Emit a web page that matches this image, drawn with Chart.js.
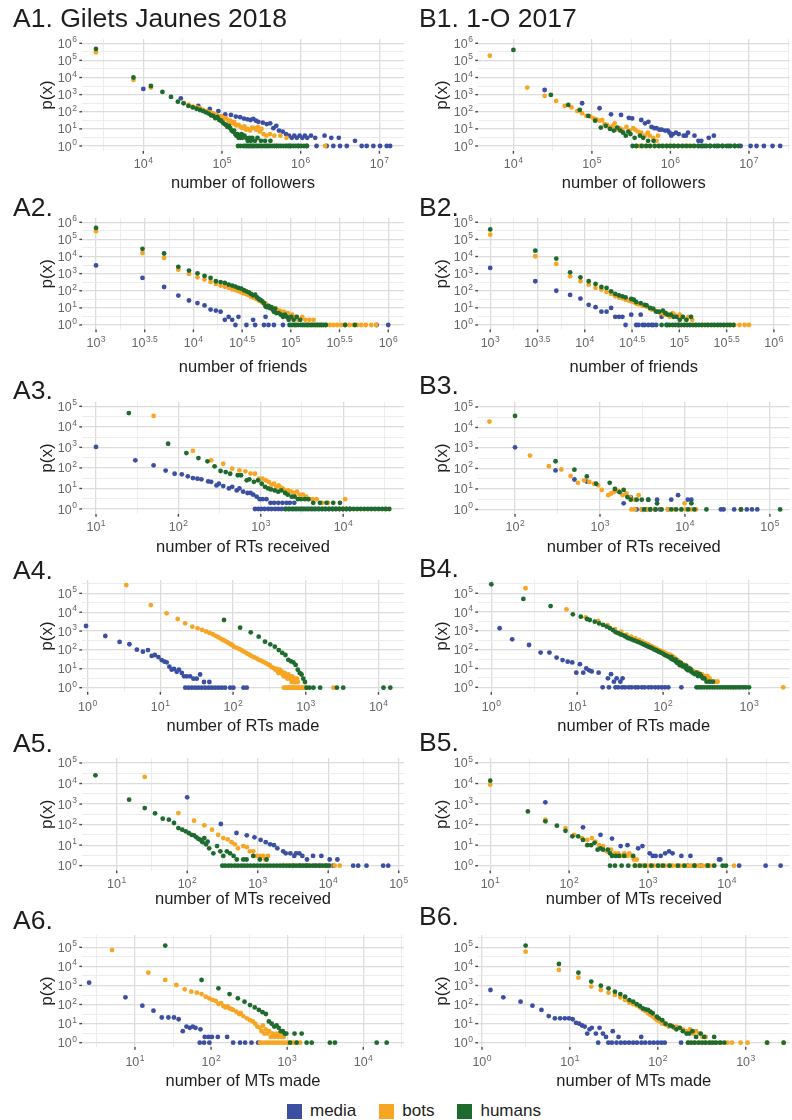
<!DOCTYPE html>
<html>
<head>
<meta charset="utf-8">
<script src="https://cdn.jsdelivr.net/npm/chart.js@4.4.1/dist/chart.umd.min.js"></script>
<style>
  html, body { margin: 0; padding: 0; background: #fff; }
  body { width: 792px; height: 1120px; position: relative; overflow: hidden;
         font-family: "Liberation Sans", Arial, Helvetica, sans-serif; }
  canvas.panel { position: absolute; }
  #legend { position: absolute; left: 287px; top: 1101px; display: flex; align-items: center;
            font-size: 17px; color: #222; }
  #legend .key { width: 15px; height: 15px; margin-right: 8px; }
  #legend .lab { margin-right: 23px; }
</style>
</head>
<body>
<div id="legend">
  <div class="key" style="background:#3b4fa3"></div><div class="lab">media</div>
  <div class="key" style="background:#f6a623"></div><div class="lab">bots</div>
  <div class="key" style="background:#1d6b2d"></div><div class="lab">humans</div>
</div>
<script>
// ---- tick labels (powers of ten) ----
const yTicks6 = [0, 1, 2, 3, 4, 5, 6];
const yTicks5 = [0, 1, 2, 3, 4, 5];
const a1XTicks = [4, 5, 6, 7];
const b1XTicks = [4, 5, 6, 7];
const a2XTicks = [3, 3.5, 4, 4.5, 5, 5.5, 6];
const b2XTicks = [3, 3.5, 4, 4.5, 5, 5.5, 6];
const a3XTicks = [1, 2, 3, 4];
const b3XTicks = [2, 3, 4, 5];
const a4XTicks = [0, 1, 2, 3, 4];
const b4XTicks = [0, 1, 2, 3];
const a5XTicks = [1, 2, 3, 4, 5];
const b5XTicks = [1, 2, 3, 4];
const a6XTicks = [1, 2, 3, 4];
const b6XTicks = [0, 1, 2, 3];

// ---- A1 followers ----
const a1Media = [[1e4,2150],[3e4,610],[5e4,220],[7e4,145],[9e4,110],[1.1e5,70],[1.3e5,65],[1.5e5,52],[1.7e5,48],[1.9e5,40],[2.1e5,36],[2.3e5,33],[2.5e5,38],[2.7e5,30],[2.9e5,26],[3.3e5,23],[3.7e5,19],[4.1e5,21],[4.5e5,11],[4.9e5,15],[5.3e5,8],[5.9e5,7],[6.5e5,5],[7.1e5,4],[7.7e5,3],[8.3e5,4],[8.9e5,3],[9.7e5,4],[1.05e6,3],[1.13e6,4],[1.21e6,3],[1.35e6,4],[1.53e6,3],[2.01e6,4],[2.45e6,3],[3.05e6,3],[4.9e6,2],
  [7.3e5,1],[9.3e5,1],[1.19e6,1],[1.59e6,1],[2.14e6,1],[2.6e6,1],[3.16e6,1],[3.85e6,1],[5.96e6,1],[6.9e6,1],[8.39e6,1],[1.02e7,1],[1.24e7,1],[1.37e7,1]];
const a1Bots = [[2500,3e5],[7500,7200],[12500,2600],[32500,330],[37500,260],[42500,200],[47500,180],[52500,160],[57500,130],[62500,110],[67500,95],[72500,90],[77500,80],[82500,68],[87500,60],[92500,52],[97500,55],[102500,45],[107500,40],[112500,42],[117500,35],[122500,28],[127500,30],[132500,24],[137500,21],[142500,26],[147500,18],[152500,16],[162500,17],[172500,13],[182500,11],[192500,14],[202500,9],[212500,10],[227500,8],[242500,12],[257500,11],[272500,9],[287500,13],[302500,7],[317500,10],[337500,5],[367500,4],[407500,5],[462500,4],[552500,4],[662500,3],
  [497500,1],[667500,1],[2040000,1]];
const a1Humans = [[2500,470000],[7500,10000],[12500,3200],[17500,1440],[22500,740],[27500,390],[32500,310],[37500,220],[42500,180],[47500,150],[52500,127],[57500,110],[62500,93],[67500,78],[72500,62],[77500,57],[82500,42],[87500,48],[92500,33],[97500,30],[102500,23],[107500,19],[112500,17],[117500,13],[122500,15],[127500,11],[132500,8],[137500,7],[142500,8],[147500,5],[152500,4],[157500,5],[162500,3],[167500,4],[172500,3],[177500,5],[182500,3],[192500,4],[202500,3],[212500,2],[222500,3],[232500,2],[242500,3],[262500,2],[282500,3],[312500,2],[352500,2],[412500,2],
  [160000,1],[172000,1],[187500,1],[197500,1],[207500,1],[217500,1],[227500,1],[237500,1],[247500,1],[257500,1],[272500,1],[287500,1],[302500,1],[322500,1],[342500,1],[362500,1],[382500,1],[402500,1],[432500,1],[462500,1],[492500,1],[527500,1],[562500,1],[602500,1],[647500,1],[697500,1],[747500,1],[807500,1],[867500,1],[937500,1],[1012500,1],[1102500,1],[1202500,1]];

// ---- B1 followers ----
const b1Media = [[25000,1870],[75000,315],[125000,160],[175000,71],[235000,65],[295000,44],[325000,41],[425000,33],[475000,21],[525000,26],[575000,13],[625000,11],[665000,11],[725000,9],[775000,9],[855000,8],[925000,8],[975000,6],[1025000,4],[1075000,5],[1175000,6],[1275000,5],[1475000,4],[1575000,4],[1675000,6],[2025000,4],[2275000,2],[2475000,2],[3075000,3],[3575000,4],
  [2450000,1],[2700000,1],[3200000,1],[3900000,1],[4600000,1],[5500000,1],[6600000,1],[7850000,1],[10500000,1],[12500000,1],[15500000,1],[20000000,1],[25000000,1]];
const b1Bots = [[5000,190000],[15000,2600],[25000,840],[35000,430],[45000,220],[55000,180],[65000,110],[75000,81],[85000,57],[95000,52],[105000,41],[115000,36],[125000,30],[135000,33],[145000,19],[155000,17],[165000,13],[185000,15],[195000,21],[205000,9],[225000,11],[245000,9],[275000,13],[305000,8],[335000,11],[355000,9],[385000,7],[425000,6],[475000,4],[515000,6],[545000,4],[605000,3],[665000,2],[695000,4],
  [365000,1],[405000,1],[445000,1],[495000,1],[555000,1],[625000,1],[715000,1],[815000,1],[905000,1],[1005000,1],[1105000,1],[1255000,1],[1455000,1],[1655000,1],[1955000,1],[2255000,1]];
const b1Humans = [[10000,410000],[30000,960],[50000,250],[70000,127],[90000,57],[110000,30],[130000,12],[150000,15],[170000,10],[190000,8],[210000,12],[230000,8],[250000,6],[270000,4],[290000,7],[310000,5],[350000,3],[410000,4],[450000,3],[520000,2],[610000,2],
  [330000,1],[370000,1],[430000,1],[490000,1],[550000,1],[630000,1],[710000,1],[790000,1],[890000,1],[990000,1],[1110000,1],[1250000,1],[1410000,1],[1590000,1],[1790000,1],[2010000,1],[2270000,1],[2550000,1],[2870000,1],[3230000,1],[3630000,1],[4090000,1],[4610000,1],[5190000,1],[5830000,1],[6570000,1],[7390000,1]];

// ---- A2 friends ----
const a2Media = [[1000,3000],[3000,560],[5000,166],[7000,52],[9000,27],[11000,19],[13000,14],[15000,8],[17000,7],[19000,6],[21000,2],[23000,3],[25000,2],[29000,3],[41000,2],[55000,3],
  [27000,1],[35000,1],[43000,1],[53000,1],[59000,1],[67000,1],[83000,1],[760000,1],[1000000,1]];
const a2Bots = [[1000,3e5],[3000,16000],[5000,8300],[7000,1700],[9000,960],[11000,610],[13000,450],[15000,330],[17000,250],[19000,200],[21000,170],[23000,150],[25000,120],[27000,110],[29000,95],[31000,80],[33000,70],[35000,62],[37000,55],[39000,45],[41000,40],[43000,36],[45000,32],[47000,27],[49000,24],[51000,20],[53000,17],[55000,18],[57000,14],[59000,12],[61000,11],[63000,9],[65000,10],[67000,8],[69000,7],[71000,9],[73000,6],[77000,7],[81000,5],[85000,6],[89000,4],[93000,5],[97000,3],[103000,4],[111000,3],[119000,2],[131000,3],[141000,2],[155000,2],[171000,2],
  [147000,1],[163000,1],[185000,1],[205000,1],[229000,1],[251000,1],[273000,1],[299000,1],[329000,1],[361000,1],[397000,1],[437000,1],[481000,1],[529000,1],[589000,1],[669000,1],[749000,1]];
const a2Humans = [[1000,470000],[3000,28000],[5000,15000],[7000,2500],[9000,1500],[11000,1050],[13000,740],[15000,560],[17000,360],[19000,320],[21000,285],[23000,230],[25000,200],[27000,175],[29000,146],[31000,133],[33000,107],[35000,93],[37000,81],[39000,65],[41000,54],[43000,59],[45000,41],[47000,33],[49000,28],[51000,24],[53000,19],[55000,12],[57000,11],[59000,13],[61000,10],[63000,11],[65000,8],[67000,6],[69000,9],[71000,5],[75000,5],[79000,4],[83000,3],[87000,4],[91000,3],[95000,2],[101000,3],[107000,2],[115000,3],[125000,2],
  [97000,1],[103000,1],[109000,1],[113000,1],[119000,1],[127000,1],[133000,1],[139000,1],[147000,1],[153000,1],[161000,1],[169000,1],[177000,1],[187000,1],[197000,1],[207000,1],[217000,1],[229000,1],[361000,1],[455000,1]];

// ---- B2 friends ----
const b2Media = [[1000,2150],[3000,360],[5000,100],[7000,57],[9000,35],[11000,15],[13000,11],[15000,6],[17000,6],[19000,10],[21000,3],[23000,3],[25000,3],[31000,4],[39000,4],[65000,3],
  [27000,1],[35000,1],[37000,1],[41000,1],[43000,1],[47000,1],[51000,1],[53000,1],[57000,1],[75000,1],[97000,1]];
const b2Bots = [[1000,190000],[3000,10400],[5000,3700],[7000,700],[9000,360],[11000,228],[13000,146],[15000,117],[17000,85],[19000,65],[21000,47],[23000,40],[25000,36],[27000,30],[29000,27],[31000,24],[33000,21],[35000,18],[37000,16],[41000,13],[45000,12],[49000,9],[51000,8],[55000,7],[59000,6],[63000,5],[69000,4],[73000,5],[79000,3],[85000,5],[89000,4],[95000,3],[101000,4],[107000,3],[117000,2],[125000,3],[137000,2],
  [97000,1],[113000,1],[131000,1],[151000,1],[175000,1],[199000,1],[227000,1],[259000,1],[295000,1],[335000,1],[381000,1],[433000,1],[491000,1],[545000,1]];
const b2Humans = [[1000,380000],[3000,22000],[5000,7600],[7000,1200],[9000,610],[11000,360],[13000,250],[15000,166],[17000,146],[19000,93],[21000,65],[23000,54],[25000,47],[27000,41],[31000,33],[33000,30],[35000,22],[39000,19],[43000,15],[45000,14],[49000,10],[53000,9],[57000,6],[61000,6],[67000,7],[71000,5],[75000,4],[81000,4],[87000,3],[93000,3],[101000,2],[109000,3],[119000,2],[133000,3],
  [65000,1],[73000,1],[79000,1],[85000,1],[91000,1],[99000,1],[105000,1],[113000,1],[121000,1],[129000,1],[139000,1],[149000,1],[161000,1],[173000,1],[187000,1],[201000,1],[217000,1],[235000,1],[253000,1],[273000,1],[295000,1],[319000,1],[345000,1],[373000,1]];

// ---- A3 RTs received ----
const a3Media = [[10,1050],[30,235],[50,134],[70,74],[90,52],[110,49],[130,39],[150,32],[170,30],[190,28],[230,22],[250,21],[290,14],[310,17],[350,13],[410,10],[450,12],[510,8],[550,10],[610,7],[690,6],[750,6],[810,5],[890,4],[970,3],[1050,3],[1170,3],[1310,2],[1450,2],[1630,2],[1830,2],[2050,2],[2250,2],[2550,2],
  [850,1],[930,1],[1010,1],[1110,1],[1230,1],[1350,1],[1490,1],[1630,1],[1790,1],[1970,1],[2170,1],[2390,1],[2630,1],[2890,1],[3170,1],[3490,1],[3830,1],[4210,1],[4630,1],[5090,1],[5590,1],[6150,1],[6770,1],[7450,1],[8190,1],[9010,1],[9910,1],[10900,1],[12000,1]];
const a3Bots = [[50,34000],[150,670],[250,235],[350,160],[450,92],[550,76],[650,68],[750,53],[850,52],[950,30],[1050,30],[1150,25],[1250,21],[1350,15],[1450,17],[1550,12],[1650,14],[1750,11],[1850,10],[1950,8],[2150,8],[2350,7],[2550,6],[2750,7],[2950,5],[3250,5],[3550,4],[3850,3],[4250,3],[4750,3],[5550,2],[6550,2],[10550,3],
  [7550,1],[9050,1],[10050,1],[11050,1],[33050,1]];
const a3Humans = [[25,47000],[75,1500],[125,530],[175,300],[225,210],[275,120],[325,71],[375,63],[425,52],[525,44],[575,44],[675,25],[725,28],[825,21],[925,25],[1025,17],[1125,12],[1225,10],[1325,9],[1475,8],[1625,7],[1775,8],[1975,6],[2125,5],[2375,4],[2575,4],[2825,3],[3075,3],[3425,3],[3775,3],[4325,2],[5225,2],[6275,2],[7575,2],[9125,2],
  [2025,1],[2225,1],[2475,1],[2725,1],[3025,1],[3325,1],[3675,1],[4075,1],[4475,1],[4975,1],[5475,1],[6025,1],[6675,1],[7375,1],[8125,1],[8975,1],[9925,1],[10975,1],[12125,1],[13375,1],[14775,1],[16325,1],[18025,1],[19925,1],[22025,1],[24325,1],[26875,1],[29675,1],[32775,1],[36225,1]];

// ---- B3 RTs received ----
const b3Media = [[100,1080],[300,80],[500,29],[700,23],[1500,8],[1900,2],[2300,4],[3700,3],[4700,3],[6900,3],[8300,5],[10800,3],[11900,3],
  [2700,1],[3100,1],[3500,1],[3900,1],[4500,1],[5100,1],[6300,1],[26500,1],[28500,1],[38000,1],[45600,1],[53500,1],[61500,1],[71000,1]];
const b3Bots = [[50,19500],[150,425],[250,130],[350,89],[450,43],[550,20],[650,26],[750,22],[850,18],[950,15],[1050,9],[1250,5],[1350,6],[1450,7],[1650,8],[1850,5],[2050,6],[2250,4],[2550,3],[2850,5],[9900,2],
  [2350,1],[2570,1],[3090,1],[3680,1],[4400,1],[5260,1],[6290,1],[7550,1],[9030,1],[10300,1],[11800,1],[13500,1],[45600,1]];
const b3Humans = [[100,36500],[300,225],[500,87],[700,41],[900,18],[1300,20],[1500,10],[1700,7],[1900,9],[2100,4],[2300,3],[2700,3],[3100,3],[3700,3],[4700,2],[11900,2],
  [3300,1],[3900,1],[4500,1],[5300,1],[6900,1],[7900,1],[9100,1],[10900,1],[12900,1],[17900,1],[45700,1],[132000,1]];

// ---- A4 RTs made ----
const a4Media = [[0.95,1860],[1.75,550],[2.75,265],[3.75,200],[4.75,103],[5.75,81],[6.75,99],[7.6,48],[8.4,54],[9.4,42],[10.4,29],[11.4,24],[12.2,22],[13.3,13],[14.3,9],[15.4,10],[16.8,7],[18,9],[19.7,6],[21.2,4],[23,4],[25.6,4],[28.5,3],[31.6,3],[35.2,5],[39.8,2],[47.2,2],
  [22,1],[24.3,1],[27,1],[30,1],[33.3,1],[37,1],[41.2,1],[45.8,1],[50.8,1],[56.5,1],[62.8,1],[69.8,1],[77.6,1],[91,1],[101,1],[139,1],[154,1]];
const a4Bots = [[3.4,275000],[7.4,24000],[12.2,8700],[17.3,4400],[21.9,2570],[27.5,1700],[32.5,1400],[37.5,1150],[42.5,950],[47.5,800],[52.5,680],[57.5,560],[62.5,470],[67.5,400],[72.5,340],[77.5,300],[82.5,260],[87.5,230],[92.5,200],[97.5,180],[102.5,150],[112.5,130],[122.5,110],[132.5,95],[142.5,80],[152.5,68],[162.5,60],[172.5,52],[182.5,46],[197.5,40],[212.5,35],[227.5,30],[242.5,27],[262.5,23],[282.5,20],[302.5,17],[322.5,15],[342.5,12],[362.5,11],[382.5,9],[407.5,8],[432.5,7],[457.5,6],[482.5,5],[512.5,6],[542.5,4],[577.5,5],[612.5,3],[652.5,4],[692.5,2],[732.5,3],[777.5,2],
  [400,10],[420,6],[440,9],[470,7],[500,4],[530,5],[560,3],[600,4],[640,2],[680,3],[720,2],[760,3],
  [497.5,1],[522.5,1],[547.5,1],[572.5,1],[597.5,1],[622.5,1],[647.5,1],[672.5,1],[702.5,1],[737.5,1],[767.5,1],[797.5,1],[832.5,1],[867.5,1],[902.5,1],[952.5,1],[1002.5,1],[2402.5,1]];
const a4Humans = [[75,3870],[125,1510],[175,855],[225,505],[275,275],[325,199],[375,149],[425,99],[475,70],[525,54],[575,30],[625,25],[675,22],[725,16],[775,9],[825,6],[875,5],[925,3],[975,2],
  [1025,1],[1125,1],[1275,1],[1575,1],[2675,1],[3275,1],[11725,1],[14525,1]];

// ---- B4 RTs made ----
const b4Media = [[1.25,1380],[1.75,357],[2.75,178],[3.75,70],[4.75,70],[5.75,38],[6.75,28],[7.75,23],[8.75,21],[9.75,6],[10.75,17],[11.75,6],[12.75,10],[13.75,8],[14.75,7],[17.75,6],[22.75,3],[24.75,5],[26.75,2],[28.75,3],[31.75,2],[33.75,3],
  [19.75,1],[23.4,1],[27.9,1],[30,1],[33.3,1],[36,1],[39.8,1],[43,1],[47.5,1],[51,1],[56.6,1],[61,1],[67.6,1],[73,1],[80.6,1],[88,1],[96.2,1],[105,1],[115,1],[163,1]];
const b4Bots = [[2.5,185000],[7.5,14000],[12.5,5300],[17.5,3400],[22.5,2000],[27.5,1250],[32.5,900],[37.5,640],[42.5,500],[47.5,400],[52.5,330],[57.5,270],[62.5,225],[67.5,190],[72.5,160],[77.5,135],[82.5,118],[87.5,100],[92.5,90],[97.5,80],[102.5,72],[107.5,64],[112.5,58],[117.5,55],[122.5,52],[127.5,45],[132.5,40],[137.5,34],[142.5,30],[147.5,28],[152.5,24],[157.5,22],[162.5,19],[167.5,17],[172.5,16],[177.5,15],[182.5,12],[187.5,13],[192.5,10],[197.5,11],[207.5,9],[217.5,8],[227.5,7],[237.5,6],[247.5,5],[257.5,6],[267.5,4],[282.5,5],[297.5,4],[312.5,3],[327.5,4],[347.5,3],[367.5,2],[392.5,2],[417.5,2],[431,2],
  [650,1],[2500,1]];
const b4Humans = [[1,300000],[2.36,50000],[4.9,21000],[8.9,7600],[11,5700],[13,4300],[14,3800],[16,3100],[18,2500],[20,2090],[22,1700],[24,1380],[26,1100],[28,850],[30,760],[32,650],[34,600],[36,520],[38,440],[40,400],[43,350],[46,310],[49,280],[52,250],[55,225],[58,200],[61,180],[64,160],[67,146],[70,135],[74,120],[78,105],[82,95],[86,85],[90,76],[95,68],[100,60],[105,52],[110,47],[115,43],[120,38],[125,33],[130,30],[135,28],[140,24],[145,20],[150,22],[156,15],[162,18],[168,13],[175,14],[182,11],[188,9],[195,8],[203,10],[212,7],[220,6],[233,5],[245,6],[254,4],[266,5],[277,4],[290,3],[302,3],[320,2],[347,2],[380,2],
  [125,40],[140,30],[160,20],[185,14],[210,9],
  [245,1],[262,1],[280,1],[300,1],[325,1],[350,1],[375,1],[400,1],[430,1],[460,1],[495,1],[530,1],[570,1],[610,1],[655,1],[700,1],[750,1],[800,1],[860,1],[920,1],[1000,1]];

// ---- A5 MTs received ----
const a5Media = [[100,2130],[300,107],[500,39],[700,30],[900,24],[1100,18],[1300,14],[1500,11],[1700,10],[1900,7],[2300,5],[2500,4],[2900,4],[3300,3],[3500,4],[3900,4],[4300,3],[5000,2],[6100,3],[8000,3],[10500,2],[13500,2],
  [3200,1],[4000,1],[4950,1],[6500,1],[7600,1],[9450,1],[11700,1],[22600,1],[26600,1],[34900,1],[60200,1],[71000,1]];
const a5Bots = [[25,21000],[75,365],[125,155],[175,92],[225,57],[275,32],[325,22],[375,19],[425,14],[475,11],[525,7],[625,9],[700,8],[865,5],[1075,3],[1200,3],[1400,3],[775,5],[975,3],[1275,2],
  [2325,1],[2775,1],[3275,1],[3875,1],[4575,1],[5375,1],[6375,1],[7525,1],[8875,1],[10475,1],[12375,1],[14575,1]];
const a5Humans = [[5,25000],[15,1630],[25,640],[35,355],[45,195],[55,174],[65,120],[75,68],[85,57],[95,47],[105,39],[115,32],[125,30],[135,24],[145,20],[155,18],[165,14],[175,22],[185,11],[195,15],[205,7],[235,4],[265,9],[295,5],[325,3],[365,5],[405,4],[455,3],[505,2],[625,2],[695,2],[865,3],[1075,2],[1335,2],
  [315,1],[345,1],[385,1],[425,1],[475,1],[525,1],[585,1],[645,1],[715,1],[795,1],[885,1],[985,1],[1095,1],[1215,1],[1355,1],[1505,1],[1675,1],[1865,1],[2075,1],[2305,1],[2565,1],[2855,1],[3175,1],[3535,1],[3935,1],[4375,1],[4865,1],[5415,1],[6025,1],[6705,1],[7465,1],[8305,1],[9245,1],[10285,1]];

// ---- B5 MTs received ----
const b5Media = [[50,1210],[150,74],[250,32],[350,21],[450,9],[550,10],[750,7],[850,9],[1050,4],[1150,3],[1250,3],[1450,3],[1650,4],[1850,5],[2050,4],[2650,3],[3450,3],[7950,2],[8250,2],
  [3200,1],[3900,1],[4700,1],[5700,1],[14300,1],[31000,1],[48000,1]];
const b5Bots = [[10,8800],[50,174],[90,68],[115,32],[145,22],[170,18],[195,22],[215,15],[240,10],[270,9],[300,5],[340,6],[380,4],[420,4],[460,3],[500,4],[540,3],[580,4],[620,3],[660,2],[720,2],
  [680,1],[760,1],[850,1],[950,1],[1060,1],[1180,1],[1320,1],[1470,1],[1640,1],[1830,1],[2040,1],[2280,1],[2540,1],[2830,1],[3160,1],[3520,1],[3930,1],[4380,1],[4890,1],[5450,1],[6080,1],[6780,1],[12300,1]];
const b5Humans = [[10,13800],[30,440],[50,144],[70,89],[90,50],[110,27],[130,27],[150,18],[170,10],[190,10],[210,13],[230,6],[250,7],[270,6],[310,6],[330,4],[350,3],[390,3],[430,3],[500,3],[650,3],
  [330,1],[381,1],[463,1],[562,1],[682,1],[789,1],[912,1],[1106,1],[1342,1],[1550,1],[1880,1],[2400,1],[2900,1],[3880,1],[5720,1],[6920,1],[8830,1],[9720,1]];

// ---- A6 MTs made ----
const a6Media = [[2.5,1400],[7.5,240],[12.5,87],[17.5,48],[22.5,21],[27.5,21],[32.5,21],[37.5,17],[42.5,4],[47.5,7],[52.5,6],[57.5,7],[62.5,6],[72.5,5],[82.5,2],[92.5,2],[102.5,2],[122.5,2],[162.5,2],
  [71,1],[81,1],[95,1],[195,1],[240,1],[280,1],[340,1],[415,1]];
const a6Bots = [[5,72000],[15,4700],[25,1950],[35,1060],[45,630],[55,470],[65,420],[75,355],[85,260],[95,210],[105,174],[115,154],[125,107],[135,120],[145,84],[155,71],[165,80],[175,63],[185,58],[195,52],[215,42],[235,32],[245,36],[265,25],[295,19],[325,15],[355,13],[380,10],[405,7],[440,6],[460,4],[480,8],[500,3],[520,5],[550,3],[580,4],[610,2],[640,3],[680,2],[720,3],[760,2],[800,3],[850,2],[900,2],
  [440,1],[470,1],[510,1],[550,1],[590,1],[640,1],[690,1],[740,1],[800,1],[870,1],[940,1],[1020,1],[1110,1],[1210,1],[1330,1],[1480,1]];
const a6Humans = [[25,123000],[75,1940],[125,710],[175,356],[225,212],[275,141],[325,94],[375,71],[425,52],[475,40],[525,32],[575,13],[625,10],[675,7],[725,8],[775,6],[825,4],[875,4],[925,3],[975,3],[1250,3],[1550,3],
  [1090,1],[1330,1],[1800,1],[2100,1],[3640,1],[4240,1],[15000,1],[20300,1]];

// ---- B6 MTs made ----
const b6Media = [[1.25,580],[1.75,240],[2.75,141],[3.75,87],[4.75,52],[5.75,25],[6.75,19],[7.75,19],[8.75,19],[9.75,19],[10.75,17],[11.75,11],[12.75,10],[13.75,8],[14.75,7],[15.75,3],[16.75,5],[17.75,6],[19.75,3],[21.75,6],[23.75,3],[25.75,2],[30.75,4],[35.75,2],[64.75,2],
  [21,1],[27.4,1],[30,1],[33.9,1],[38,1],[42.3,1],[47,1],[52.5,1],[58,1],[65.2,1],[72,1],[80.9,1],[90,1],[100,1],[110,1],[120,1],[184,1]];
const b6Bots = [[3.14,59000],[7.5,6500],[12.5,2570],[17.5,870],[22.5,580],[27.5,420],[32.5,320],[37.5,240],[42.5,170],[47.5,126],[52.5,105],[57.5,90],[62.5,70],[67.5,55],[72.5,45],[77.5,35],[82.5,28],[87.5,24],[92.5,19],[97.5,15],[102.5,14],[107.5,12],[112.5,10],[117.5,11],[122.5,9],[132.5,7],[142.5,8],[152.5,6],[162.5,7],[177.5,6],[192.5,5],[212.5,4],[232.5,5],[252.5,3],[272.5,4],[297.5,3],[322.5,2],[350,2],
  [225,1],[262,1],[300,1],[345,1],[395,1],[450,1],[520,1],[620,1],[700,1],[875,1],[1050,1],[1750,1],[2700,1]];
const b6Humans = [[3.14,123000],[7.5,13400],[12.5,4700],[17.5,1590],[22.5,980],[27.5,710],[32.5,470],[37.5,356],[42.5,260],[47.5,172],[52.5,141],[57.5,106],[62.5,84],[67.5,63],[72.5,56],[77.5,52],[82.5,42],[87.5,35],[97.5,23],[102.5,19],[112.5,15],[122.5,10],[137.5,8],[147.5,7],[162.5,5],[177.5,6],[192.5,4],[212.5,3],[227.5,3],[247.5,4],[272.5,2],[307.5,3],[337.5,2],[437.5,2],
  [220,1],[240,1],[262,1],[290,1],[320,1],[350,1],[385,1],[420,1],[460,1],[510,1],[570,1],[1750,1],[2700,1]];

// ---- look ----
const FONT = '"Liberation Sans", Arial, Helvetica, sans-serif';
const COLORS = { media: '#3b4fa3', bots: '#f6a623', humans: '#1d6b2d' };
const GRID_MAJOR = '#dcdcdc';
const GRID_MINOR = '#ebebeb';
const TICK_FONT = 12.5;
const SUP_FONT = 8.5;

// page layout: rows (y in px) and columns (x in px)
const ROWS = [
  { top: 39,  bottom: 151,  titleY: 27,  tickY: 168,  xTitleY: 188 },
  { top: 218, bottom: 329.5, titleY: 216, tickY: 347, xTitleY: 372 },
  { top: 402, bottom: 514,  titleY: 399, tickY: 531,  xTitleY: 552 },
  { top: 580, bottom: 692,  titleY: 579, tickY: 711,  xTitleY: 731 },
  { top: 758, bottom: 870.5, titleY: 752, tickY: 888, xTitleY: 904 },
  { top: 935, bottom: 1047, titleY: 929, tickY: 1066, xTitleY: 1086 }
];
const COLS = [
  { canvasX: 0,   width: 408, left: 82,  right: 404, titleX: 13,  yTitleX: 47 },
  { canvasX: 396, width: 396, left: 478, right: 792, titleX: 419, yTitleX: 442 }
];

const panels = [
  { col: 0, row: 0, title: 'A1. Gilets Jaunes 2018', xTitle: 'number of followers', xTicks: a1XTicks, yTicks: yTicks6, xr: [3.221, 7.313], yr: [-0.292, 6.25], media: a1Media, bots: a1Bots, humans: a1Humans },
  { col: 1, row: 0, title: 'B1. 1-O 2017', xTitle: 'number of followers', xTicks: b1XTicks, yTicks: yTicks6, xr: [3.549, 7.518], yr: [-0.292, 6.25], media: b1Media, bots: b1Bots, humans: b1Humans },
  { col: 0, row: 1, title: 'A2.', xTitle: 'number of friends', xTicks: a2XTicks, yTicks: yTicks6, xr: [2.856, 6.162], yr: [-0.263, 6.25], media: a2Media, bots: a2Bots, humans: a2Humans },
  { col: 1, row: 1, title: 'B2.', xTitle: 'number of friends', xTicks: b2XTicks, yTicks: yTicks6, xr: [2.871, 6.166], yr: [-0.263, 6.25], media: b2Media, bots: b2Bots, humans: b2Humans },
  { col: 0, row: 2, title: 'A3.', xTitle: 'number of RTs received', xTicks: a3XTicks, yTicks: yTicks5, xr: [0.830, 4.738], yr: [-0.243, 5.209], media: a3Media, bots: a3Bots, humans: a3Humans },
  { col: 1, row: 2, title: 'B3.', xTitle: 'number of RTs received', xTicks: b3XTicks, yTicks: yTicks5, xr: [1.564, 5.232], yr: [-0.209, 5.243], media: b3Media, bots: b3Bots, humans: b3Humans, titleY: 394 },
  { col: 0, row: 3, title: 'A4.', xTitle: 'number of RTs made', xTicks: a4XTicks, yTicks: yTicks5, xr: [-0.078, 4.351], yr: [-0.228, 5.707], media: a4Media, bots: a4Bots, humans: a4Humans },
  { col: 1, row: 3, title: 'B4.', xTitle: 'number of RTs made', xTicks: b4XTicks, yTicks: yTicks5, xr: [-0.142, 3.472], yr: [-0.25, 5.707], media: b4Media, bots: b4Bots, humans: b4Humans, titleY: 577 },
  { col: 0, row: 4, title: 'A5.', xTitle: 'number of MTs received', xTicks: a5XTicks, yTicks: yTicks5, xr: [0.508, 5.075], yr: [-0.234, 5.243], media: a5Media, bots: a5Bots, humans: a5Humans },
  { col: 1, row: 4, title: 'B5.', xTitle: 'number of MTs received', xTicks: b5XTicks, yTicks: yTicks5, xr: [0.845, 4.795], yr: [-0.234, 5.243], media: b5Media, bots: b5Bots, humans: b5Humans, titleY: 751 },
  { col: 0, row: 5, title: 'A6.', xTitle: 'number of MTs made', xTicks: a6XTicks, yTicks: yTicks5, xr: [0.304, 4.535], yr: [-0.225, 5.645], media: a6Media, bots: a6Bots, humans: a6Humans },
  { col: 1, row: 5, title: 'B6.', xTitle: 'number of MTs made', xTicks: b6XTicks, yTicks: yTicks5, xr: [-0.045, 3.499], yr: [-0.225, 5.645], media: b6Media, bots: b6Bots, humans: b6Humans, titleY: 925 }
];

// major breaks plus the half-way minor breaks, like ggplot does
function gridBreaks(majors, lo, hi) {
  const step = majors[1] - majors[0];
  const out = [];
  for (let i = -1; i < majors.length; i++) {
    const m = i < 0 ? majors[0] - step : majors[i];
    if (i >= 0) out.push({ e: m, major: true });
    out.push({ e: m + step / 2, major: false });
  }
  return out.filter(b => b.e >= lo && b.e <= hi);
}

function toPoints(pairs) {
  return pairs.map(p => ({ x: p[0], y: p[1] }));
}

function drawPower(ctx, exp, x, y, align) {
  const base = '10', sup = String(exp);
  ctx.font = TICK_FONT + 'px ' + FONT;
  const wb = ctx.measureText(base).width;
  ctx.font = SUP_FONT + 'px ' + FONT;
  const ws = ctx.measureText(sup).width;
  const total = wb + ws + 0.5;
  const left = align === 'right' ? x - total : x - total / 2;
  ctx.textAlign = 'left';
  ctx.textBaseline = 'alphabetic';
  ctx.font = TICK_FONT + 'px ' + FONT;
  ctx.fillText(base, left, y);
  ctx.font = SUP_FONT + 'px ' + FONT;
  ctx.fillText(sup, left + wb + 0.5, y - 5.5);
}

function makeDecor(p, row, col, ox, oy) {
  return {
    id: 'ggDecor',
    afterDraw(chart) {
      const ctx = chart.ctx;
      const xs = chart.scales.x, ys = chart.scales.y, a = chart.chartArea;
      ctx.save();
      // tick marks
      ctx.strokeStyle = '#4a4a4a';
      ctx.lineWidth = 1.4;
      p.xTicks.forEach(e => {
        const px = xs.getPixelForValue(Math.pow(10, e));
        ctx.beginPath(); ctx.moveTo(px, a.bottom); ctx.lineTo(px, a.bottom + 2.7); ctx.stroke();
      });
      p.yTicks.forEach(e => {
        const py = ys.getPixelForValue(Math.pow(10, e));
        ctx.beginPath(); ctx.moveTo(a.left - 2.7, py); ctx.lineTo(a.left, py); ctx.stroke();
      });
      // tick labels
      ctx.fillStyle = '#666666';
      p.xTicks.forEach(e => {
        drawPower(ctx, e, xs.getPixelForValue(Math.pow(10, e)), row.tickY - oy, 'center');
      });
      p.yTicks.forEach(e => {
        drawPower(ctx, e, a.left - 5, ys.getPixelForValue(Math.pow(10, e)) + 4.5, 'right');
      });
      // axis titles
      ctx.fillStyle = '#1e1e1e';
      ctx.font = '16.5px ' + FONT;
      ctx.textAlign = 'center';
      ctx.textBaseline = 'alphabetic';
      ctx.fillText(p.xTitle, (a.left + a.right) / 2, row.xTitleY - oy);
      ctx.save();
      ctx.translate(col.yTitleX - ox, (a.top + a.bottom) / 2);
      ctx.rotate(-Math.PI / 2);
      ctx.textBaseline = 'middle';
      ctx.font = '17px ' + FONT;
      ctx.fillText('p(x)', 0, 0);
      ctx.restore();
      // panel title
      ctx.font = '26.5px ' + FONT;
      ctx.textAlign = 'left';
      ctx.fillStyle = '#1e1e1e';
      ctx.fillText(p.title, col.titleX - ox, (p.titleY || row.titleY) - oy);
      ctx.restore();
    }
  };
}

function logAxis(range, majors) {
  const breaks = gridBreaks(majors, range[0], range[1]);
  return {
    type: 'logarithmic',
    min: Math.pow(10, range[0]),
    max: Math.pow(10, range[1]),
    afterBuildTicks: scale => {
      scale.ticks = breaks.map(b => ({ value: Math.pow(10, b.e), isMajor: b.major }));
    },
    afterFit: scale => {
      if (scale.isHorizontal()) scale.height = 0; else scale.width = 0;
    },
    ticks: { display: false },
    border: { display: false },
    grid: {
      drawTicks: false,
      color: c => (c.tick && c.tick.isMajor) ? GRID_MAJOR : GRID_MINOR,
      lineWidth: c => (c.tick && c.tick.isMajor) ? 1.3 : 0.9
    }
  };
}

panels.forEach(p => {
  const row = ROWS[p.row], col = COLS[p.col];
  const top = (p.titleY || row.titleY) - 27;
  const bottom = row.xTitleY + 6;
  const canvas = document.createElement('canvas');
  canvas.className = 'panel';
  canvas.width = col.width;
  canvas.height = bottom - top;
  canvas.style.left = col.canvasX + 'px';
  canvas.style.top = top + 'px';
  canvas.style.width = col.width + 'px';
  canvas.style.height = (bottom - top) + 'px';
  document.body.appendChild(canvas);

  new Chart(canvas.getContext('2d'), {
    type: 'scatter',
    data: {
      datasets: [
        { label: 'humans', data: toPoints(p.humans), backgroundColor: COLORS.humans, order: 1 },
        { label: 'bots', data: toPoints(p.bots), backgroundColor: COLORS.bots, order: 2 },
        { label: 'media', data: toPoints(p.media), backgroundColor: COLORS.media, order: 3 }
      ]
    },
    options: {
      responsive: false,
      animation: false,
      devicePixelRatio: 1,
      layout: {
        padding: {
          left: col.left - col.canvasX,
          right: col.canvasX + col.width - col.right,
          top: row.top - top,
          bottom: bottom - row.bottom
        }
      },
      elements: { point: { radius: 2.4, borderWidth: 0, hoverRadius: 2.4 } },
      scales: {
        x: logAxis(p.xr, p.xTicks),
        y: logAxis(p.yr, p.yTicks)
      },
      plugins: { legend: { display: false }, tooltip: { enabled: false } }
    },
    plugins: [makeDecor(p, row, col, col.canvasX, top)]
  });
});
</script>
</body>
</html>
